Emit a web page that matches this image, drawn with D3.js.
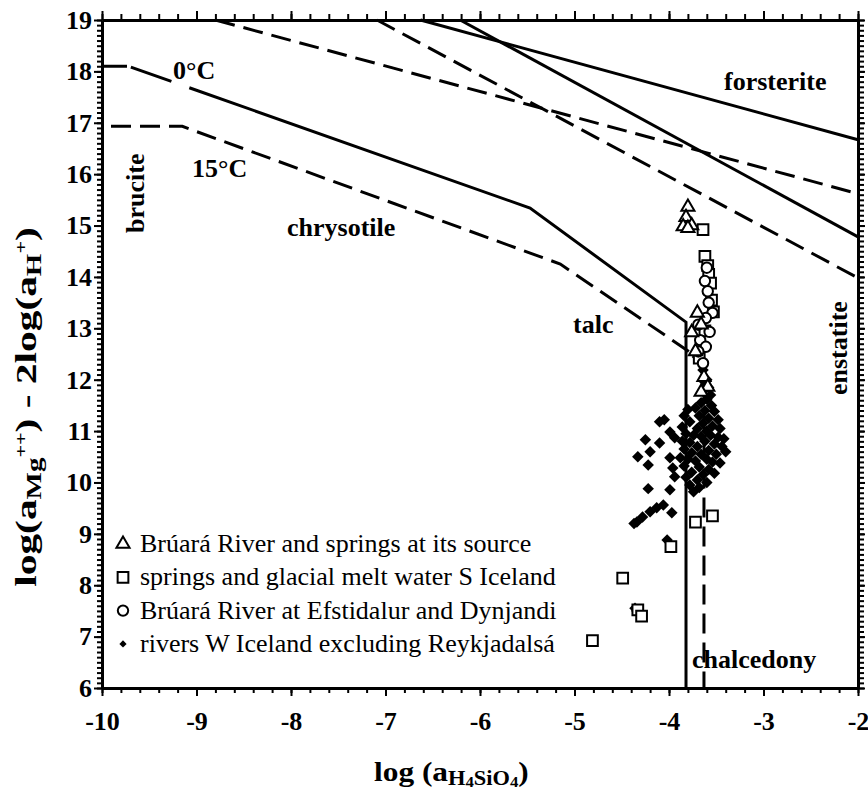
<!DOCTYPE html>
<html>
<head>
<meta charset="utf-8">
<script src="https://cdn.jsdelivr.net/npm/d3@7"></script>
<style>
  body { margin: 0; background: #fff; }
  text { font-family: "Liberation Serif", "Times New Roman", serif; }
</style>
</head>
<body>
<div id="chart"></div>
<script>
// axis ticks
var xTicks = [-10, -9, -8, -7, -6, -5, -4, -3, -2];
var yTicks = [6, 7, 8, 9, 10, 11, 12, 13, 14, 15, 16, 17, 18, 19];

// stability boundaries [log aH4SiO4, log aMg++ - 2 log aH+]
var line0C = [[-10, 18.1], [-9.72, 18.1], [-5.47, 15.34], [-3.82, 13.12], [-3.82, 6]];
var line15C = [[-10, 16.93], [-9.15, 16.93], [-5.15, 14.25], [-3.63, 12.35], [-3.63, 6]];
var forst0C_a = [[-6.63, 19], [-2, 16.67]];
var forst0C_b = [[-6.21, 19], [-2, 14.78]];
var forst15C_a = [[-8.8, 19], [-2, 15.62]];
var forst15C_b = [[-7.09, 19], [-2, 13.98]];

// samples
var bruaraSource = [[-3.80, 15.36], [-3.82, 15.16], [-3.85, 14.98], [-3.76, 15.00], [-3.80, 14.95],
  [-3.70, 13.30], [-3.66, 13.07], [-3.76, 12.92], [-3.72, 12.55],
  [-3.63, 12.05], [-3.59, 11.86], [-3.66, 11.76]];
var springsS = [[-3.64, 14.92], [-3.62, 14.40], [-3.59, 14.22], [-3.58, 14.05], [-3.56, 13.88],
  [-3.55, 13.55], [-3.53, 13.32], [-3.62, 12.95], [-3.68, 12.42],
  [-3.72, 9.23], [-3.54, 9.35], [-3.98, 8.75], [-4.49, 8.14], [-4.33, 7.52], [-4.29, 7.40], [-4.81, 6.92]];
var bruaraEfst = [[-3.60, 14.18], [-3.62, 13.92], [-3.59, 13.72], [-3.58, 13.50], [-3.54, 13.30],
  [-3.61, 13.20], [-3.69, 13.07], [-3.57, 12.93], [-3.67, 12.77], [-3.61, 12.64], [-3.69, 12.55], [-3.64, 12.32]];
var riversW = [[-3.70, 12.44], [-3.64, 12.19], [-3.60, 12.0],
  [-3.62, 11.95], [-3.58, 11.85], [-3.64, 11.78], [-3.56, 11.7], [-3.60, 11.62], [-3.66, 11.55], [-3.55, 11.5],
  [-3.80, 11.42], [-3.72, 11.45], [-3.62, 11.4], [-3.52, 11.38], [-3.84, 11.3], [-3.68, 11.3], [-3.58, 11.25],
  [-3.48, 11.22], [-3.78, 11.18], [-3.64, 11.15], [-3.54, 11.1], [-3.86, 11.08], [-3.70, 11.05], [-3.46, 11.05],
  [-3.60, 11.0], [-3.82, 10.95], [-3.74, 10.92], [-3.66, 10.9], [-3.56, 10.92], [-3.48, 10.88], [-3.42, 10.85],
  [-3.86, 10.8], [-3.78, 10.78], [-3.62, 10.8], [-3.52, 10.75], [-3.70, 10.7], [-3.44, 10.7], [-3.84, 10.65],
  [-3.58, 10.62], [-3.76, 10.58], [-3.66, 10.55], [-3.50, 10.55], [-3.40, 10.6], [-3.88, 10.48], [-3.80, 10.45],
  [-3.72, 10.42], [-3.60, 10.45], [-3.54, 10.4], [-3.46, 10.38], [-3.84, 10.32], [-3.68, 10.3], [-3.58, 10.25],
  [-3.76, 10.2], [-3.64, 10.15], [-3.52, 10.18], [-3.82, 10.1], [-3.70, 10.05], [-3.60, 10.0], [-3.78, 9.95],
  [-3.68, 9.9], [-3.74, 9.82],
  [-4.10, 11.18], [-4.05, 11.22], [-3.99, 10.98], [-3.94, 10.87], [-4.25, 10.83], [-4.10, 10.77], [-4.20, 10.6],
  [-4.33, 10.5], [-3.99, 10.48], [-4.22, 10.34], [-3.96, 10.28], [-3.94, 10.11], [-4.22, 9.88], [-3.99, 9.86],
  [-3.97, 9.41], [-4.06, 9.56], [-4.13, 9.51], [-4.20, 9.43], [-4.28, 9.33], [-4.34, 9.23], [-4.37, 9.2],
  [-4.02, 8.88], [-4.36, 7.55], [-4.34, 7.50]];

var legendLabels = ["Brúará River and springs at its source",
  "springs and glacial melt water S Iceland",
  "Brúará River at Efstidalur and Dynjandi",
  "rivers W Iceland excluding Reykjadalsá"];

function drawChart() {
  var svg = d3.select("#chart").append("svg")
    .attr("width", 868)
    .attr("height", 789);

  var mLeft = 102, mRight = 858, mTop = 20, mBottom = 688;

  var x = d3.scaleLinear().domain([-10, -2]).range([mLeft, mRight]);
  var y = d3.scaleLinear().domain([6, 19]).range([mBottom, mTop]);

  var line = d3.line().x(function (d) { return x(d[0]); }).y(function (d) { return y(d[1]); });

  // minor ticks first, then major ticks with labels
  function minor(axis, vals, size) {
    return axis.tickValues(vals).tickSize(size).tickSizeOuter(0).tickFormat("");
  }
  var xMinor = d3.range(-10, -1.99, 0.2);
  var yMinor = d3.range(6, 19.01, 0.1);

  svg.append("g").attr("transform", "translate(0," + mBottom + ")")
    .call(minor(d3.axisBottom(x), xMinor, 5));
  svg.append("g").attr("transform", "translate(0," + mTop + ")")
    .call(minor(d3.axisTop(x), xMinor, 6));
  svg.append("g").attr("transform", "translate(" + mLeft + ",0)")
    .call(minor(d3.axisLeft(y), yMinor, 5));
  svg.append("g").attr("transform", "translate(" + mRight + ",0)")
    .call(minor(d3.axisRight(y), yMinor, 6));

  svg.append("g").attr("class", "major").attr("transform", "translate(0," + mBottom + ")")
    .call(d3.axisBottom(x).tickValues(xTicks).tickSize(8).tickSizeOuter(0).tickPadding(16)
      .tickFormat(function (d) { return d; }));
  svg.append("g").attr("transform", "translate(0," + mTop + ")")
    .call(d3.axisTop(x).tickValues(xTicks).tickSize(9).tickSizeOuter(0).tickFormat(""));
  svg.append("g").attr("class", "major").attr("transform", "translate(" + mLeft + ",0)")
    .call(d3.axisLeft(y).tickValues(yTicks).tickSize(8).tickSizeOuter(0).tickPadding(2)
      .tickFormat(function (d) { return d; }));
  svg.append("g").attr("transform", "translate(" + mRight + ",0)")
    .call(d3.axisRight(y).tickValues(yTicks).tickSize(7).tickSizeOuter(0).tickFormat(""));

  svg.selectAll(".domain").attr("stroke", "#000").attr("stroke-width", 3);
  svg.selectAll(".tick line").attr("stroke", "#000").attr("stroke-width", 2);
  svg.selectAll(".major text")
    .attr("fill", "#000")
    .style("font-family", "'Liberation Serif', serif")
    .style("font-weight", "bold")
    .style("font-size", "26px");

  // boundary lines
  var gl = svg.append("g").attr("fill", "none").attr("stroke", "#000").attr("stroke-width", 3);
  gl.append("path").attr("d", line(line0C)).attr("stroke-dasharray", "25,4,43,19,3000");
  gl.append("path").attr("d", line(line15C)).attr("stroke-dasharray", "20,9").attr("stroke-dashoffset", 20);
  gl.append("path").attr("d", line(forst0C_a));
  gl.append("path").attr("d", line(forst0C_b));
  gl.append("path").attr("d", line(forst15C_a)).attr("stroke-dasharray", "20,9");
  gl.append("path").attr("d", line(forst15C_b)).attr("stroke-dasharray", "20,9");

  // samples
  var tri = d3.symbol().type(d3.symbolTriangle).size(75);
  var sq = d3.symbol().type(d3.symbolSquare).size(115);
  var circ = d3.symbol().type(d3.symbolCircle).size(85);
  var dia = d3.symbol().type(d3.symbolSquare).size(66);

  svg.append("g").selectAll("path").data(riversW).enter().append("path")
    .attr("d", dia)
    .attr("transform", function (d) { return "translate(" + x(d[0]) + "," + y(d[1]) + ") rotate(45)"; })
    .attr("fill", "#000");

  function openMarks(data, sym) {
    svg.append("g").selectAll("path").data(data).enter().append("path")
      .attr("d", sym)
      .attr("transform", function (d) { return "translate(" + x(d[0]) + "," + y(d[1]) + ")"; })
      .attr("fill", "#fff").attr("stroke", "#000").attr("stroke-width", 2);
  }
  openMarks(springsS, sq);
  openMarks(bruaraEfst, circ);
  openMarks(bruaraSource, tri);

  // field labels
  function label(txt, px, py, rot) {
    var t = svg.append("text")
      .attr("x", px).attr("y", py)
      .attr("font-weight", "bold")
      .attr("font-size", "26px")
      .text(txt);
    if (rot) t.attr("transform", "rotate(-90," + px + "," + py + ")");
  }
  label("0°C", 173, 79);
  label("15°C", 192, 177);
  label("brucite", 144, 233, true);
  label("chrysotile", 287, 236);
  label("talc", 573, 333);
  label("forsterite", 724, 90);
  label("enstatite", 847, 395, true);
  label("chalcedony", 692, 668);

  // legend
  var legendSyms = [tri, sq, circ];
  legendLabels.forEach(function (s, i) {
    var ly = 552 + i * 33.3;
    svg.append("path")
      .attr("d", i == 3 ? d3.symbol().type(d3.symbolSquare).size(26)() : legendSyms[i]())
      .attr("transform", "translate(123," + (ly - 8) + ")" + (i == 3 ? " rotate(45)" : ""))
      .attr("fill", i == 3 ? "#000" : "#fff")
      .attr("stroke", "#000").attr("stroke-width", i == 3 ? 0 : 2);
    svg.append("text").attr("x", 140).attr("y", ly)
      .attr("font-size", "26px")
      .text(s);
  });

  // axis titles
  var xt = svg.append("text")
    .attr("transform", "translate(374,781) scale(1.12,1)")
    .attr("font-weight", "bold").attr("font-size", "28px");
  xt.append("tspan").text("log (a");
  xt.append("tspan").attr("font-size", "20px").attr("dy", 4).text("H");
  xt.append("tspan").attr("font-size", "15px").attr("dy", 2).text("4");
  xt.append("tspan").attr("font-size", "20px").attr("dy", -2).text("SiO");
  xt.append("tspan").attr("font-size", "15px").attr("dy", 2).text("4");
  xt.append("tspan").attr("dy", -6).text(")");

  var yt = svg.append("text")
    .attr("transform", "translate(36,407) rotate(-90) scale(1.38,1)")
    .attr("text-anchor", "middle")
    .attr("font-weight", "bold").attr("font-size", "30px");
  yt.append("tspan").text("log(a");
  yt.append("tspan").attr("font-size", "21px").attr("dy", 5).text("Mg");
  yt.append("tspan").attr("font-size", "16px").attr("dy", -14).text("++");
  yt.append("tspan").attr("dy", 9).text(") - 2log(a");
  yt.append("tspan").attr("font-size", "21px").attr("dy", 5).text("H");
  yt.append("tspan").attr("font-size", "16px").attr("dy", -14).text("+");
  yt.append("tspan").attr("dy", 9).text(")");
}

drawChart();
</script>
</body>
</html>
